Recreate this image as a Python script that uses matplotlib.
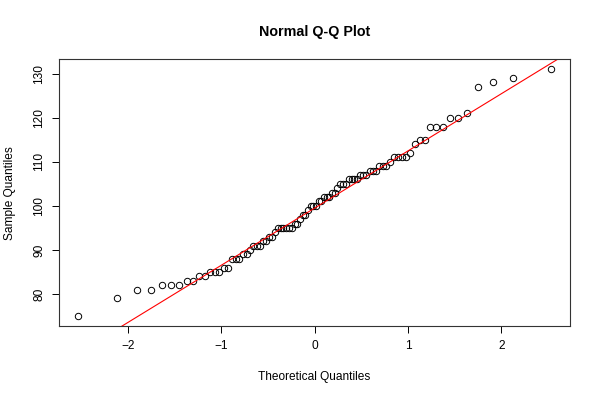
import numpy as np
import matplotlib
matplotlib.use("Agg")
import matplotlib.pyplot as plt
from statistics import NormalDist

# Sample values (sorted)
sample_values = [
    75, 79, 81, 81, 82, 82, 82, 83, 83, 84, 84, 85, 85, 85, 86, 86,
    88, 88, 88, 89, 89, 90, 91, 91, 91, 92, 92, 93, 93, 94,
    95, 95, 95, 95, 95, 95, 96, 96, 97, 98, 98, 99, 100, 100, 100,
    101, 101, 102, 102, 102, 103, 103, 104, 105, 105, 105,
    106, 106, 106, 106, 107, 107, 107, 108, 108, 108, 109, 109, 109,
    110, 111, 111, 111, 111, 112, 114, 115, 115, 118, 118, 118,
    120, 120, 121, 127, 128, 129, 131,
]
x_ticks = [-2, -1, 0, 1, 2]
y_ticks = [80, 90, 100, 110, 120, 130]

plt.rcParams['font.family'] = ['Liberation Sans', 'DejaVu Sans']

y = np.sort(np.array(sample_values, dtype=float))
n = len(y)
nd = NormalDist()
a = 3/8 if n <= 10 else 0.5
probs = (np.arange(1, n + 1) - a) / (n + 1 - 2 * a)
x = np.array([nd.inv_cdf(p) for p in probs])

# qqline through quartiles
q1, q3 = np.percentile(y, [25, 75])
z1, z3 = nd.inv_cdf(0.25), nd.inv_cdf(0.75)
slope = (q3 - q1) / (z3 - z1)
intercept = q1 - slope * z1

fig = plt.figure(figsize=(6, 4), dpi=100)
ax = fig.add_axes([59.3/600, 1 - 326/400, (570 - 59.3)/600, (326 - 59.3)/400])

ax.plot(x, y, linestyle='none', marker='o', markersize=4.6,
        markerfacecolor='none', markeredgecolor='black', markeredgewidth=0.7)

xr = x.max() - x.min()
yr = y.max() - y.min()
xlim = (x.min() - 0.04 * xr, x.max() + 0.04 * xr)
ylim = (y.min() - 0.04 * yr, y.max() + 0.04 * yr)
xx = np.array([xlim[0] - 1, xlim[1] + 1])
ax.plot(xx, intercept + slope * xx, color='red', linewidth=0.8)
ax.set_xlim(*xlim)
ax.set_ylim(*ylim)

ax.set_xticks(x_ticks)
ax.set_yticks(y_ticks)
ax.set_yticklabels([str(t) for t in y_ticks], rotation=90, va='center')
ax.tick_params(axis='both', direction='out', length=5, width=0.7,
               labelsize=8.6, colors='black', pad=5)
for s in ax.spines.values():
    s.set_linewidth(0.8)
    s.set_color('#333333')

fig.text(314.3/600, 1 - 32/400, 'Normal Q-Q Plot', ha='center', va='center',
         fontsize=10.3, fontweight='bold')
fig.text(314.3/600, 1 - 377/400, 'Theoretical Quantiles', ha='center', va='center',
         fontsize=8.6)
fig.text(10/600, 1 - 192.7/400, 'Sample Quantiles', ha='center', va='center',
         rotation=90, fontsize=8.6)

fig.savefig('out.png', dpi=100)
